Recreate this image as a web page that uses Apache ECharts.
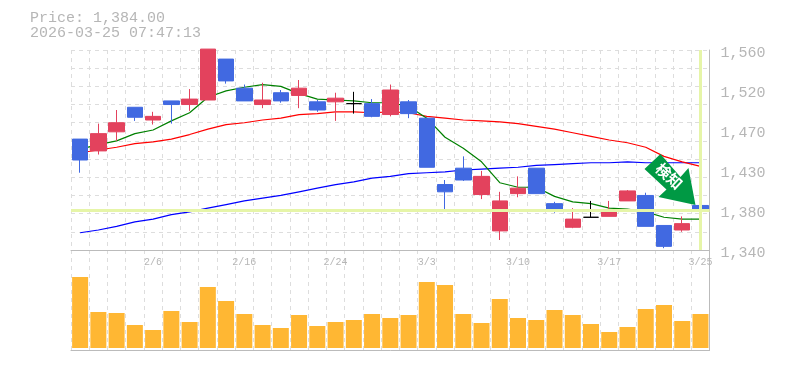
<!DOCTYPE html>
<html>
<head>
<meta charset="utf-8">
<style>html,body{margin:0;padding:0;background:#fff}#c{width:785px;height:370px}</style>
<script src="https://cdn.jsdelivr.net/npm/echarts@6/dist/echarts.min.js"></script>
</head>
<body>
<div id="c"></div>
<script>
const dates = ['2/2','2/3','2/4','2/5','2/6','2/9','2/10','2/12','2/13','2/16','2/17','2/18','2/19','2/20','2/24','2/25','2/26','2/27','3/2','3/3','3/4','3/5','3/6','3/9','3/10','3/11','3/12','3/13','3/16','3/17','3/18','3/19','3/23','3/24','3/25'];
// open, close, low, high
const candles = [
[1462,1439,1425,1462],[1449,1468,1445,1479],[1470,1480,1460,1494],[1497,1486,1482,1497],[1483,1487,1478,1492],
[1504,1500,1479,1504],[1500,1506,1493,1517],[1505,1561,1505,1561],[1550,1526,1523,1550],[1518,1504,1504,1522],
[1500,1505,1496,1524],[1513,1504,1502,1516],[1510,1518,1496,1527],[1503,1494,1492,1505],[1503,1507,1482,1513],
[1501,1501,1490,1514],[1501,1487,1486,1506],[1489,1516,1487,1522],[1503,1490,1485,1505],[1485,1431,1431,1485],
[1412,1404,1383,1417],[1430,1417,1416,1443],[1401,1421,1396,1427],[1361,1394,1351,1404],[1402,1408,1398,1421],
[1430,1402,1402,1430],[1391,1383,1381,1393],[1365,1374,1364,1386],[1376,1376,1376,1394],[1377,1384,1377,1394],
[1394,1405,1394,1406],[1400,1366,1366,1403],[1367,1344,1342,1367],[1362,1369,1360,1377],[1389,1383,1381,1395]];
const maShort = [1451,1456,1460,1468,1472,1482,1491,1508,1515,1519,1522,1520,1512,1506,1505,1504,1502,1502,1498,1485,1464,1452,1437,1414,1409,1409,1399,1393,1391,1386,1385,1382,1376,1374,1374];
const maMid = [1447,1450,1453,1457,1459,1462,1467,1473,1478,1480,1483,1485,1489,1490,1492,1492,1491,1492,1491,1487,1485,1483,1482,1481,1479,1476,1473,1469,1465,1461,1458,1453,1443,1437,1432];
const maLong = [1359,1362,1366,1371,1374,1379,1382,1386,1390,1394,1397,1400,1404,1408,1412,1415,1419,1421,1424,1425,1426,1428,1429,1430,1431,1433,1434,1435,1436,1436,1437,1436,1436,1436,1436];
const volumes = [71,36,35,23,18,37,26,61,47,34,23,20,33,22,26,28,34,30,33,66,63,34,25,49,30,28,38,33,24,16,21,39,43,27,34];
const priceTicks = [1340,1384,1428,1472,1516,1560];
const lastPrice = 1384;
const lastDate = '3/25';
const headerText = 'Price: 1,384.00\n2026-03-25 07:47:13';
const arrowText = '検知';

const GRID = '#dddddd', AXIS = '#bbbbbb', TEXT = '#b6b6b6', LIME = '#e6f5a8';
const MONO = '"Liberation Mono", monospace';
const dashed = {show:true, interval:0, lineStyle:{color:GRID, type:[4,4], width:1}};
const maLine = (name,data,color)=>({name,type:'line',data,xAxisIndex:0,yAxisIndex:0,symbol:'none',z:2,
  lineStyle:{color,width:1.2},itemStyle:{color},animation:false,silent:true});

const chart = echarts.init(document.getElementById('c'),null,{renderer:'canvas'});
chart.setOption({
  animation:false,
  backgroundColor:'#fff',
  title:{text:headerText,left:30,top:11,padding:0,textStyle:{color:TEXT,fontFamily:MONO,fontSize:15,fontWeight:'normal',lineHeight:15}},
  grid:[{left:71,top:50,width:638.6,height:200},{left:71,top:250,width:638.6,height:100}],
  xAxis:[
    {type:'category',gridIndex:0,data:dates,boundaryGap:true,
     axisLine:{show:true,onZero:false,lineStyle:{color:AXIS,width:1}},axisTick:{show:false},
     axisLabel:{show:true,interval:(i)=>i%5===4,color:TEXT,fontFamily:MONO,fontSize:10,margin:7,hideOverlap:false},
     splitLine:dashed},
    {type:'category',gridIndex:1,data:dates,boundaryGap:true,
     axisLine:{show:true,onZero:false,lineStyle:{color:AXIS,width:1}},axisTick:{show:false},axisLabel:{show:false},
     splitLine:dashed}
  ],
  yAxis:[
    {type:'value',gridIndex:0,position:'right',min:1340,max:1560,interval:20,
     axisLine:{show:true,lineStyle:{color:AXIS,width:1}},axisTick:{show:false},
     axisLabel:{show:true,customValues:priceTicks,color:TEXT,fontFamily:MONO,fontSize:15,margin:11,verticalAlign:'top',lineHeight:6,
       formatter:(v)=>(Math.round(v/10)*10).toLocaleString('en-US')},
     splitLine:{show:true,lineStyle:{color:GRID,type:[4,4],width:1}}},
    {type:'value',gridIndex:1,position:'right',min:-2,max:98,
     axisLine:{show:true,lineStyle:{color:AXIS,width:1}},axisTick:{show:false},axisLabel:{show:false},splitLine:{show:false}}
  ],
  series:[
    {name:'last',type:'line',data:[],xAxisIndex:0,yAxisIndex:0,z:1,silent:true,
     markLine:{silent:true,symbol:'none',label:{show:false},animation:false,
       lineStyle:{color:LIME,width:3,type:'solid'},
       data:[{yAxis:lastPrice},{xAxis:lastDate}]}},
    maLine('maLong',maLong,'#0000ff'),
    maLine('maMid',maMid,'#ff0000'),
    maLine('maShort',maShort,'#008000'),
    {name:'price',type:'candlestick',data:candles,xAxisIndex:0,yAxisIndex:0,barWidth:16,z:3,clip:false,silent:true,
     itemStyle:{color:'#e3425d',color0:'#4169e1',borderColor:'#e3425d',borderColor0:'#4169e1',borderColorDoji:'#000000',borderWidth:1},
     markPoint:{silent:true,animation:false,z:6,data:[{
       coord:[lastDate,lastPrice],
       symbol:'path://M660 154 L644 169 L666 189.5 L658 197 L695 205 L688 168 L680 177 Z',
       symbolSize:51,symbolOffset:[-30.5,-30.5],symbolKeepAspect:true,
       itemStyle:{color:'#009944'},
       label:{show:true,formatter:arrowText,position:'inside',color:'#fff',rotate:-43,offset:[-3,-2],
         fontFamily:'"Noto Sans CJK JP"',fontWeight:'bold',fontSize:15}
     }]}},
    {name:'volume',type:'bar',data:volumes,xAxisIndex:1,yAxisIndex:1,barWidth:16,silent:true,itemStyle:{color:'#ffb733'}}
  ]
});
</script>
</body>
</html>
